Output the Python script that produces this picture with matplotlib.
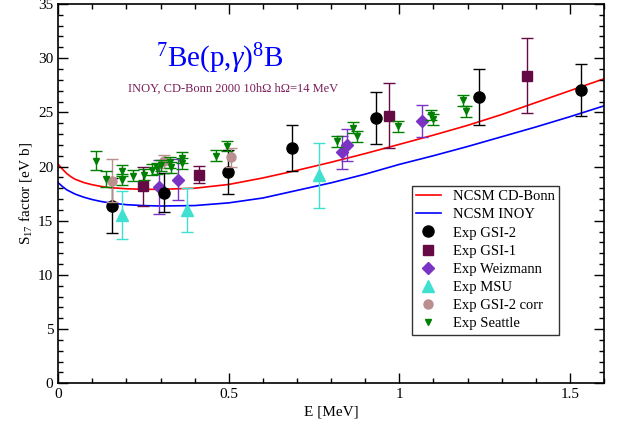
import matplotlib
matplotlib.use('Agg')
import matplotlib.pyplot as plt
from matplotlib.lines import Line2D
from matplotlib.ticker import MultipleLocator

plt.rcParams['font.family'] = ['Liberation Serif', 'DejaVu Serif']
plt.rcParams['mathtext.fontset'] = 'custom'
plt.rcParams['mathtext.rm'] = 'Liberation Serif'
plt.rcParams['mathtext.it'] = 'Liberation Serif:italic'

# ---- theory curves ----
curve_E = [0.0, 0.0125, 0.025, 0.0375, 0.05, 0.075, 0.1, 0.125, 0.15, 0.2, 0.25, 0.3,
           0.4, 0.5, 0.6, 0.7, 0.8, 0.9, 1.0, 1.1, 1.2, 1.3, 1.4, 1.5, 1.6]
cdbonn_S = [20.2, 19.75, 19.35, 19.05, 18.82, 18.52, 18.32, 18.17, 18.06, 17.95, 17.9, 17.9,
            18.0, 18.35, 18.95, 19.65, 20.4, 21.2, 22.05, 22.9, 23.8, 24.8, 25.9, 27.0, 28.1]
inoy_S = [18.5, 18.15, 17.85, 17.65, 17.45, 17.17, 16.95, 16.78, 16.65, 16.48, 16.4, 16.36,
          16.4, 16.65, 17.1, 17.8, 18.5, 19.3, 20.2, 21.0, 21.85, 22.75, 23.65, 24.6, 25.6]

# ---- experimental data ----
gsi2_E = [0.157, 0.311, 0.499, 0.684, 0.931, 1.234, 1.533]
gsi2_S = [16.4, 17.6, 19.5, 21.7, 24.5, 26.4, 27.1]
gsi2_err = [2.5, 1.8, 2.0, 2.15, 2.4, 2.6, 2.4]

gsi1_E = [0.247, 0.413, 0.971, 1.374]
gsi1_S = [18.2, 19.25, 24.7, 28.4]
gsi1_err = [1.8, 0.8, 3.0, 3.5]

weiz_E = [0.294, 0.350, 0.833, 0.846, 1.065]
weiz_S = [18.1, 18.8, 21.3, 22.0, 24.2]
weiz_err = [2.5, 1.9, 1.5, 1.5, 1.5]

msu_E = [0.188, 0.377, 0.765]
msu_S = [15.5, 16.0, 19.2]
msu_err = [2.2, 2.0, 3.0]

corr_E = [0.157, 0.311, 0.505]
corr_S = [18.7, 20.5, 20.85]
corr_err = [2.0, 0.6, 0.85]

seattle_E = [0.112, 0.139, 0.186, 0.186, 0.218, 0.252, 0.275, 0.290, 0.300,
             0.328, 0.330, 0.362, 0.363, 0.461, 0.495, 0.817, 0.865, 0.875,
             0.996, 1.094, 1.100, 1.188, 1.195]
seattle_S = [20.55, 18.85, 19.6, 18.8, 19.15, 19.25, 19.7, 19.85, 20.1,
             20.4, 19.95, 20.8, 20.3, 21.0, 21.9, 22.35, 23.6, 22.8,
             23.7, 24.75, 24.35, 26.1, 25.1]
seattle_err = [0.85, 0.75, 0.5, 0.5, 0.5, 0.5, 0.5, 0.5, 0.5,
               0.5, 0.5, 0.5, 0.5, 0.5, 0.5, 0.5, 0.5, 0.5,
               0.5, 0.5, 0.5, 0.5, 0.5]

c_gsi2 = 'black'
c_gsi1 = '#650a45'
c_weiz = '#7a33c4'
c_msu = '#40e0d0'
c_corr = '#bc8f8f'
c_seattle = '#008000'

fig = plt.figure(figsize=(6.26, 4.28), dpi=100)
ax = fig.add_axes([0.0931, 0.1044, 0.9649 - 0.0931, 0.9907 - 0.1044])

ax.plot(curve_E, cdbonn_S, color='red', lw=1.2, zorder=1)
ax.plot(curve_E, inoy_S, color='blue', lw=1.2, zorder=1)

eb = dict(ls='none', capsize=4, elinewidth=1.0, capthick=1.0)
ax.errorbar(weiz_E, weiz_S, yerr=weiz_err, fmt='D', ms=6.5, color=c_weiz, zorder=2, **eb)
ax.errorbar(msu_E, msu_S, yerr=msu_err, fmt='^', ms=8.5, color=c_msu, zorder=2, **eb)
ax.errorbar(gsi1_E, gsi1_S, yerr=gsi1_err, fmt='s', ms=7, color=c_gsi1, zorder=3, **eb)
ax.errorbar(gsi2_E, gsi2_S, yerr=gsi2_err, fmt='o', ms=8, color=c_gsi2, zorder=3, **eb)
ax.errorbar(corr_E, corr_S, yerr=corr_err, fmt='o', ms=6.5, color=c_corr, zorder=4, **eb)
ax.errorbar(seattle_E, seattle_S, yerr=seattle_err, fmt='v', ms=5, color=c_seattle, zorder=5, **eb)

ax.set_xlim(0, 1.6)
ax.set_ylim(0, 35)
ax.xaxis.set_major_locator(MultipleLocator(0.5))
ax.xaxis.set_minor_locator(MultipleLocator(0.1))
ax.yaxis.set_major_locator(MultipleLocator(5))
ax.yaxis.set_minor_locator(MultipleLocator(1))
ax.set_xticks([0, 0.5, 1, 1.5])
ax.set_xticklabels(['0', '0.5', '1', '1.5'])
ax.tick_params(which='both', direction='in', top=True, right=True, labelsize=11, width=1)
ax.tick_params(which='major', length=7, pad=3.5)
ax.tick_params(which='minor', length=3.6)
for s in ax.spines.values():
    s.set_linewidth(1.2)

ax.set_xlabel('E [MeV]', fontsize=11, labelpad=3)
ax.set_ylabel('S$_{17}$ factor [eV b]', fontsize=11, labelpad=3)

ax.text(0.295, 0.855, r'$^{7}$Be(p,$\gamma$)$^{8}$B', transform=ax.transAxes,
        ha='center', va='center', fontsize=21, color='blue')
ax.text(0.32, 0.776, 'INOY, CD-Bonn 2000 10hΩ hΩ=14 MeV', transform=ax.transAxes,
        ha='center', va='center', fontsize=9, color='#7a1f5a')

handles = [
    Line2D([], [], color='red', lw=1.2),
    Line2D([], [], color='blue', lw=1.2),
    Line2D([], [], ls='none', marker='o', ms=8, color=c_gsi2),
    Line2D([], [], ls='none', marker='s', ms=7, color=c_gsi1),
    Line2D([], [], ls='none', marker='D', ms=6, color=c_weiz),
    Line2D([], [], ls='none', marker='^', ms=8, color=c_msu),
    Line2D([], [], ls='none', marker='o', ms=6.5, color=c_corr),
    Line2D([], [], ls='none', marker='v', ms=5, color=c_seattle),
]
labels = ['NCSM CD-Bonn', 'NCSM INOY', 'Exp GSI-2', 'Exp GSI-1', 'Exp Weizmann',
          'Exp MSU', 'Exp GSI-2 corr', 'Exp Seattle']
leg = ax.legend(handles, labels, loc='upper left', bbox_to_anchor=(0.6476, 0.521),
                borderaxespad=0, fontsize=10.5, frameon=True, fancybox=False,
                handlelength=1.7, handletextpad=0.8, labelspacing=0.34,
                borderpad=0.3)
leg.get_frame().set_edgecolor('black')
leg.get_frame().set_linewidth(1.0)

fig.savefig('out.png', dpi=100)
